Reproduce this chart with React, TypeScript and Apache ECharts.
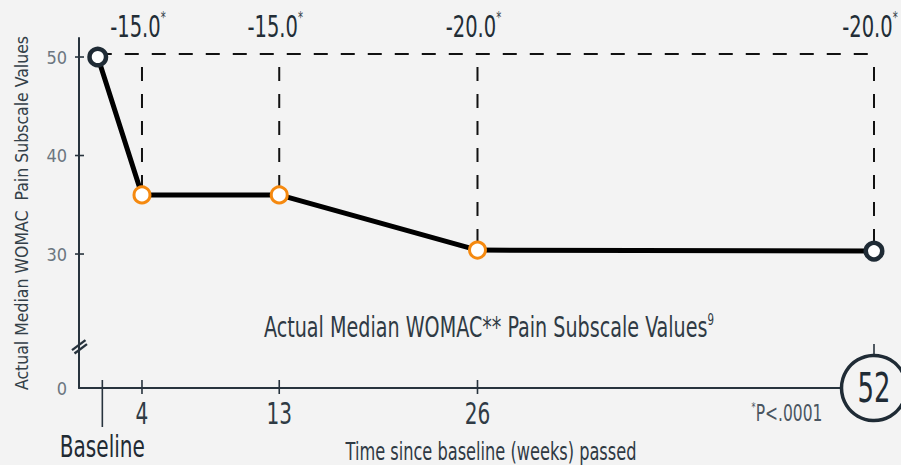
import React, { useEffect, useRef } from 'react';
import * as echarts from 'echarts';

const FONT = "'DejaVu Sans Condensed', 'DejaVu Sans', sans-serif";

// ---- data ----
const weekLabels = ['Baseline', '4', '13', '26', '52'];
const weekPositions = [1.1, 4, 13, 26, 52]; // plotted x (weeks); baseline sits just right of the axis
const medianWomac = [50.0, 36.0, 36.0, 30.4, 30.3];
const changeLabels = ['-15.0', '-15.0', '-20.0', '-20.0'];
const significanceMark = '*';
const referenceLevel = 50.3;
const xTickPositions = [1.4, 4, 13, 26, 52];
const yTickValues = [30, 40, 50];
const yZeroLabel = '0';
const yAxisMin = 16.4;
const yAxisMax = 51.93;
const xAxisMin = -0.13;
const xAxisMax = 52;
const breakMarkValue = 20.7;

const BG = '#f3f3f3';
const AXIS = '#27333d';
const DARK = '#1f2b35';
const ORANGE = '#f5890f';
const NARROW = 0.72;

export default function App() {
  const ref = useRef<HTMLDivElement>(null);
  useEffect(() => {
    if (!ref.current) return;
    const chart = echarts.init(ref.current, null, { renderer: 'svg' });
    const last = weekPositions.length - 1;
    const option: any = {
      animation: false,
      backgroundColor: BG,
      textStyle: { fontFamily: FONT },
      grid: { left: 79, right: 27, top: 38, bottom: 77, containLabel: false, outerBoundsMode: 'none' },
      xAxis: {
        type: 'value', min: xAxisMin, max: xAxisMax,
        axisLine: { show: true, onZero: false, lineStyle: { color: AXIS, width: 2 } },
        axisTick: { show: false }, splitLine: { show: false }, axisLabel: { show: false },
      },
      yAxis: {
        type: 'value', min: yAxisMin, max: yAxisMax,
        axisLine: { show: true, onZero: false, lineStyle: { color: AXIS, width: 2 } },
        axisTick: { show: false }, splitLine: { show: false },
        axisLabel: {
          customValues: [yAxisMin, ...yTickValues],
          formatter: (v: number) => (v === yAxisMin ? yZeroLabel : String(v)),
          fontSize: 18, fontFamily: FONT, color: '#6b7680', margin: 12,
        },
        name: 'Actual Median WOMAC  Pain Subscale Values',
        nameLocation: 'middle', nameGap: 48, nameRotate: 90,
        nameTextStyle: { fontSize: 17.5, fontFamily: FONT, color: '#333f48' },
      },
      series: [
        {
          type: 'line', silent: true, clip: false, z: 1, symbol: 'none',
          data: [[weekPositions[0], referenceLevel], [weekPositions[last], referenceLevel]],
          lineStyle: { color: '#111', width: 2, type: [14, 13] },
        },
        {
          type: 'custom', silent: true, z: 1,
          data: weekPositions.slice(1).map((x, i) => [x, medianWomac[i + 1]]),
          renderItem: (_p: any, api: any) => {
            const top = api.coord([api.value(0), referenceLevel]);
            const bot = api.coord([api.value(0), api.value(1)]);
            return {
              type: 'line',
              shape: { x1: top[0], y1: top[1], x2: bot[0], y2: bot[1] },
              style: { stroke: '#111', lineWidth: 2, lineDash: [14, 13], lineDashOffset: 14 },
            };
          },
        },
        {
          type: 'custom', silent: true, z: 4,
          data: weekPositions.slice(1).map((x, i) => [x, referenceLevel, i]),
          renderItem: (_p: any, api: any) => {
            const c = api.coord([api.value(0), api.value(1)]);
            const lbl = changeLabels[api.value(2)];
            return {
              type: 'text', x: c[0] - 4, y: c[1] - 28, scaleX: 0.7,
              style: {
                text: '{a|' + lbl + '}{s|' + significanceMark + '}',
                textAlign: 'center', textVerticalAlign: 'middle',
                align: 'center', verticalAlign: 'middle',
                rich: {
                  a: { fontSize: 31, fontFamily: FONT, fill: '#222d36', color: '#222d36', lineHeight: 34 },
                  s: { fontSize: 16, fontFamily: FONT, fill: '#333f48', color: '#333f48', lineHeight: 18, verticalAlign: 'top' },
                },
              },
            };
          },
        },
        {
          type: 'line', clip: false, z: 3, symbol: 'circle', showAllSymbol: true, silent: true,
          lineStyle: { color: '#000', width: 5 },
          data: weekPositions.map((x, i) => {
            const end = i === 0 || i === last;
            return {
              value: [x, medianWomac[i]],
              symbolSize: end ? 16.5 : 16,
              itemStyle: { color: '#fff', borderColor: end ? DARK : ORANGE, borderWidth: end ? 4.5 : 3 },
            };
          }),
        },
        {
          // x-axis ticks (crossing the axis)
          type: 'custom', silent: true, z: 2,
          data: xTickPositions.map((x, i) => [x, yAxisMin, i]),
          renderItem: (_p: any, api: any) => {
            const c = api.coord([api.value(0), api.value(1)]);
            const i = api.value(2);
            let y1 = c[1] - 8;
            let y2 = c[1] + 6;
            if (i === 0) y2 = c[1] + 39;
            if (i === xTickPositions.length - 1) { y1 = c[1] - 44; y2 = c[1] - 30; }
            return { type: 'line', shape: { x1: c[0], y1, x2: c[0], y2 }, style: { stroke: AXIS, lineWidth: 1.6 } };
          },
        },
        {
          // x-axis tick labels
          type: 'custom', silent: true, z: 2,
          data: xTickPositions.slice(0, last).map((x, i) => [x, yAxisMin, i]),
          renderItem: (_p: any, api: any) => {
            const c = api.coord([api.value(0), api.value(1)]);
            const i = api.value(2);
            const isBase = i === 0;
            return {
              type: 'text', x: c[0], y: c[1] + (isBase ? 58.5 : 25.5), scaleX: NARROW,
              style: {
                text: weekLabels[i],
                textAlign: 'center', textVerticalAlign: 'middle', align: 'center', verticalAlign: 'middle',
                font: '31px ' + FONT, fill: isBase ? '#1f2a33' : '#2f3b45',
              },
            };
          },
        },
        {
          type: 'custom', silent: true, z: 2,
          data: yTickValues.map((v) => [xAxisMin, v]),
          renderItem: (_p: any, api: any) => {
            const c = api.coord([api.value(0), api.value(1)]);
            return { type: 'line', shape: { x1: c[0] - 4, y1: c[1], x2: c[0] + 5, y2: c[1] }, style: { stroke: AXIS, lineWidth: 1.6 } };
          },
        },
        {
          type: 'custom', silent: true, z: 2,
          data: [[xAxisMin, breakMarkValue]],
          renderItem: (_p: any, api: any) => {
            const c = api.coord([api.value(0), api.value(1)]);
            return {
              type: 'group',
              children: [
                { type: 'line', shape: { x1: c[0] - 7, y1: c[1] + 4.5, x2: c[0] + 6.5, y2: c[1] - 5.5 }, style: { stroke: AXIS, lineWidth: 2.4 } },
                { type: 'line', shape: { x1: c[0] - 4.5, y1: c[1] + 7.8, x2: c[0] + 8, y2: c[1] - 1.5 }, style: { stroke: AXIS, lineWidth: 2.4 } },
              ],
            };
          },
        },
        {
          // final-week badge on the axis
          type: 'custom', silent: true, z: 6,
          data: [[weekPositions[last], yAxisMin, last]],
          renderItem: (_p: any, api: any) => {
            const c = api.coord([api.value(0), api.value(1)]);
            return {
              type: 'group',
              children: [
                { type: 'circle', shape: { cx: c[0], cy: c[1], r: 32.5 }, style: { fill: BG, stroke: DARK, lineWidth: 3.5 } },
                {
                  type: 'text', x: c[0], y: c[1], scaleX: NARROW,
                  style: {
                    text: weekLabels[api.value(2)],
                    textAlign: 'center', textVerticalAlign: 'middle', align: 'center', verticalAlign: 'middle',
                    font: '40px ' + FONT, fill: DARK,
                  },
                },
              ],
            };
          },
        },
      ],
      graphic: [
        {
          type: 'text', x: 489, y: 327, scaleX: 0.76, silent: true,
          style: {
            text: '{a|Actual Median WOMAC** Pain Subscale Values}{s|9}',
            textAlign: 'center', textVerticalAlign: 'middle', align: 'center', verticalAlign: 'middle',
            rich: {
              a: { fontSize: 28, fontFamily: FONT, fill: '#2f3a44', color: '#2f3a44', lineHeight: 30 },
              s: { fontSize: 15, fontFamily: FONT, fill: '#2f3a44', color: '#2f3a44', lineHeight: 16, verticalAlign: 'top' },
            },
          },
        },
        {
          type: 'text', x: 491, y: 452, scaleX: 0.75, silent: true,
          style: {
            text: 'Time since baseline (weeks) passed',
            textAlign: 'center', textVerticalAlign: 'middle', align: 'center', verticalAlign: 'middle',
            font: '24px ' + FONT, fill: '#2f3a44',
          },
        },
        {
          type: 'text', x: 787, y: 413, scaleX: 0.75, silent: true,
          style: {
            text: '{s|*}{a|P<.0001}',
            textAlign: 'center', textVerticalAlign: 'middle', align: 'center', verticalAlign: 'middle',
            rich: {
              a: { fontSize: 23, fontFamily: FONT, fill: '#4a5560', color: '#4a5560', lineHeight: 26 },
              s: { fontSize: 12, fontFamily: FONT, fill: '#4a5560', color: '#4a5560', lineHeight: 13, verticalAlign: 'top' },
            },
          },
        },
      ],
    };
    chart.setOption(option);
    return () => chart.dispose();
  }, []);
  return (
    <div
      ref={ref}
      style={{ position: 'fixed', left: 0, top: 0, width: 901, height: 465, background: BG }}
    />
  );
}
